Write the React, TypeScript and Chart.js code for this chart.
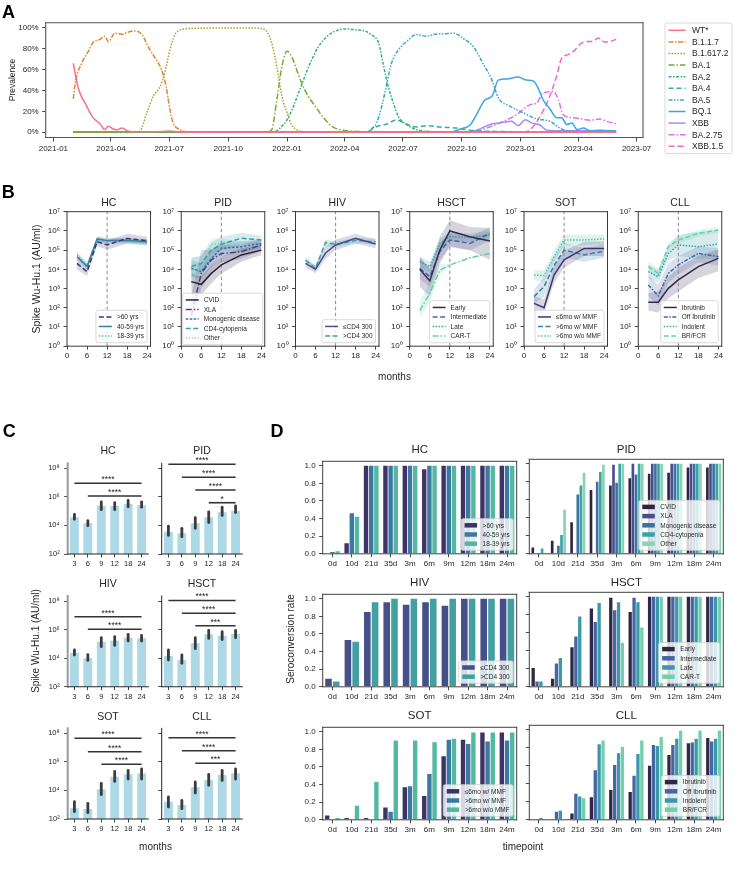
import React, { useEffect, useRef } from 'react';
import { Chart, registerables } from 'chart.js';

Chart.register(...registerables);

const FONT = '"Liberation Sans", Arial, Helvetica, sans-serif';
const INK = '#262626';

// ================= Panel A : variant prevalence =================
const aTickDays = [0, 90, 181, 273, 365, 455, 546, 638, 730, 820, 911];
const aTickLabels = ['2021-01', '2021-04', '2021-07', '2021-10', '2022-01', '2022-04', '2022-07', '2022-10', '2023-01', '2023-04', '2023-07'];
const aYTicks = [0, 20, 40, 60, 80, 100];
const aVariants = ['WT*', 'B.1.1.7', 'B.1.617.2', 'BA.1', 'BA.2', 'BA.4', 'BA.5', 'BQ.1', 'XBB', 'BA.2.75', 'XBB.1.5'];

// days since 2021-01-01, prevalence %
const wtDays = [31, 39, 52, 62, 73, 80, 86, 93, 100, 107, 115, 125, 150, 170, 182, 195, 220, 500, 879];
const wtPct = [66, 42, 25, 14, 8, 2.6, 5.7, 3.2, 2.5, 4, 1.5, 0.6, 0.5, 0.8, 1.2, 0.3, 0, 0, 0];
const b117Days = [31, 35, 44, 55, 62, 73, 80, 86, 96, 107, 117, 125, 138, 148, 159, 169, 176, 182, 187, 198, 208, 230, 879];
const b117Pct = [32, 50, 66, 78, 86, 89, 92, 87, 95, 94, 96, 97, 94, 82, 71, 60, 44, 22, 9, 2.6, 0.5, 0, 0];
const b16172Days = [31, 128, 135, 146, 156, 167, 174, 182, 190, 200, 216, 300, 323, 333, 341, 349, 357, 365, 372, 380, 392, 879];
const b16172Pct = [0, 0, 1, 18.6, 34.5, 44, 57, 79, 93.6, 98.4, 99.5, 100, 99.5, 96.7, 85.6, 63, 34.5, 18.6, 7.4, 2.5, 0.5, 0];
const ba1Days = [31, 330, 341, 349, 357, 365, 372, 380, 388, 398, 409, 422, 437, 453, 469, 500, 879];
const ba1Pct = [0, 0, 2.5, 31, 63, 77.6, 72.8, 60, 47, 34.5, 25, 13.8, 5, 2, 1, 0.5, 0];
const ba2Days = [31, 343, 354, 365, 375, 388, 401, 414, 429, 442, 458, 476, 487, 495, 508, 515, 523, 531, 539, 552, 567, 581, 600, 879];
const ba2Pct = [0, 0, 4, 12, 25, 46, 66, 82, 92.6, 97.4, 99, 98, 97, 94, 85.6, 66, 44, 28, 15, 7.4, 2.6, 1, 0.5, 0];
const ba4Days = [31, 490, 500, 508, 521, 536, 547, 567, 583, 604, 630, 650, 680, 879];
const ba4Pct = [0, 0, 4, 6, 8, 12, 9, 5, 6.4, 5, 4, 2, 1, 0];
const ba5Days = [31, 490, 495, 505, 513, 521, 528, 539, 552, 567, 583, 596, 612, 625, 640, 656, 671, 685, 695, 713, 734, 755, 776, 791, 808, 879];
const ba5Pct = [0, 0, 2.5, 9, 25, 47, 66, 79, 87, 93.6, 92, 94, 94.5, 95, 90, 82, 66, 50, 33, 25, 18.6, 12.8, 10.5, 4, 1, 0];
const bq1Days = [31, 620, 635, 651, 661, 674, 685, 695, 708, 726, 739, 750, 757, 765, 776, 786, 794, 802, 810, 818, 828, 838, 854, 879];
const bq1Pct = [0, 0, 3, 7, 17, 31, 34.5, 50, 51, 53, 50, 49, 42.5, 31, 22, 14, 14, 7.4, 9, 2.6, 4, 1.5, 2, 1];
const xbbDays = [31, 640, 661, 682, 698, 716, 726, 737, 747, 760, 771, 800, 879];
const xbbPct = [0, 0, 2, 7.4, 9, 10.5, 6.4, 12, 9, 7, 2, 1.5, 1.5];
const ba275Days = [31, 640, 660, 677, 703, 724, 734, 745, 755, 765, 781, 789, 796, 812, 823, 838, 854, 864, 879];
const ba275Pct = [0, 0, 1, 4, 10.5, 17, 22, 26.5, 28, 37.7, 39, 31, 17, 14, 13, 11.5, 12.8, 10.5, 8];
const xbb15Days = [31, 729, 745, 760, 773, 786, 794, 804, 815, 822, 833, 843, 851, 861, 870, 879];
const xbb15Pct = [0, 0, 2.6, 15, 31, 53.6, 71, 74.4, 79, 84, 87, 87, 90.4, 86.6, 87, 89];

const aSeries = [
  [wtDays, wtPct], [b117Days, b117Pct], [b16172Days, b16172Pct], [ba1Days, ba1Pct], [ba2Days, ba2Pct],
  [ba4Days, ba4Pct], [ba5Days, ba5Pct], [bq1Days, bq1Pct], [xbbDays, xbbPct], [ba275Days, ba275Pct], [xbb15Days, xbb15Pct],
];
const aColors = ['#f77189', '#dc8932', '#ae9d31', '#77ab31', '#33b07a', '#36ada4', '#38a9c5', '#3ba3ec', '#a48cf4', '#dd6ff0', '#f668c2'];
const aDashes = [[], [5, 1.5, 1.5, 1.5], [1.5, 1.5], [6, 2, 1.5, 2], [3, 1.5, 1.5, 1.5], [5, 3], [4, 1.5, 1.5, 1.5, 1.5, 1.5], [], [], [6, 2, 1.5, 2], [6, 3]];

// ================= Panel B : antibody kinetics (log10 AU/ml) =================
const bMonths = [3, 6, 9, 12, 18, 24];
const bXTicks = [0, 6, 12, 18, 24];
const bYTicks = [1, 10, 100, 1e3, 1e4, 1e5, 1e6, 1e7];

const hcLabels = ['>60 yrs', '40-59 yrs', '18-39 yrs'];
const hcMean = [[4.31, 3.88, 5.44, 5.27, 5.61, 5.49], [4.66, 4.14, 5.58, 5.5, 5.52, 5.44], [4.75, 4.2, 5.5, 5.5, 5.45, 5.38]];
const hcLo = [[4.0, 3.65, 5.2, 5.02, 5.35, 5.28], [4.5, 4.0, 5.42, 5.38, 5.4, 5.33], [4.5, 4.0, 5.3, 5.35, 5.3, 5.22]];
const hcHi = [[4.55, 4.05, 5.68, 5.5, 5.85, 5.7], [4.82, 4.3, 5.72, 5.62, 5.64, 5.55], [4.95, 4.38, 5.68, 5.65, 5.6, 5.52]];

const pidLabels = ['CVID', 'XLA', 'Monogenic disease', 'CD4-cytopenia', 'Other'];
const pidMean = [[3.36, 3.22, 3.79, 4.23, 4.75, 5.0], [1.6, 3.79, 4.49, 4.83, 4.92, 5.27], [4.05, 3.88, 4.57, 5.09, 5.18, 5.35], [4.15, 4.3, 5.0, 5.3, 5.62, 5.53], [3.95, 4.1, 5.3, 5.35, 5.2, 5.3]];
const pidLo = [[2.75, 2.67, 3.27, 3.79, 4.4, 4.75], [0.8, 3.0, 3.9, 4.35, 4.55, 4.95], [3.6, 3.5, 4.15, 4.7, 4.9, 5.1], [3.6, 3.85, 4.5, 4.95, 5.3, 5.25], [3.2, 3.5, 4.8, 5.0, 4.9, 5.0]];
const pidHi = [[3.8, 3.62, 4.23, 4.66, 5.1, 5.3], [2.6, 5.0, 5.05, 5.25, 5.3, 5.55], [4.5, 4.3, 5.0, 5.45, 5.45, 5.55], [4.6, 4.7, 5.4, 5.7, 5.9, 5.75], [4.6, 4.7, 5.6, 5.6, 5.45, 5.55]];

const hivLabels = ['≤CD4 300', '>CD4 300'];
const hivMean = [[4.31, 4.0, 4.85, 5.27, 5.61, 5.32], [4.48, 4.05, 5.4, 5.3, 5.5, 5.44]];
const hivLo = [[4.1, 3.8, 4.55, 5.0, 5.35, 5.1], [4.3, 3.9, 5.2, 5.15, 5.35, 5.3]];
const hivHi = [[4.5, 4.2, 5.2, 5.55, 5.85, 5.55], [4.65, 4.2, 5.55, 5.45, 5.65, 5.6]];

const hsctLabels = ['Early', 'Intermediate', 'Late', 'CAR-T'];
const hsctMean = [[4.0, 3.4, 5.0, 6.0, 5.7, 5.47], [4.05, 3.62, 4.92, 5.53, 5.35, 5.87], [4.4, 4.14, 5.35, 5.7, 5.67, 5.79], [1.85, 2.75, 3.95, 4.23, 4.6, 4.83]];
const hsctLo = [[3.1, 2.6, 4.3, 5.2, 5.0, 4.5], [3.5, 3.1, 4.5, 5.15, 5.0, 5.5], [4.1, 3.85, 5.05, 5.45, 5.45, 5.55], [1.5, 2.3, 3.75, 4.2, 4.57, 4.8]];
const hsctHi = [[4.66, 4.0, 5.7, 6.55, 6.2, 6.15], [4.6, 4.1, 5.35, 5.9, 5.7, 6.2], [4.65, 4.4, 5.6, 5.9, 5.85, 6.0], [2.3, 3.4, 4.3, 4.26, 4.63, 4.86]];

const sotLabels = ['≤6mo w/ MMF', '>6mo w/ MMF', '>6mo w/o MMF'];
const sotMean = [[2.23, 2.0, 3.7, 4.49, 5.09, 5.09], [2.58, 3.1, 4.2, 5.0, 4.75, 4.95], [3.7, 3.67, 4.66, 5.53, 5.53, 5.58]];
const sotLo = [[1.85, 1.7, 3.3, 4.1, 4.7, 4.7], [2.2, 2.6, 3.75, 4.6, 4.4, 4.6], [3.45, 3.35, 4.35, 5.25, 5.25, 5.3]];
const sotHi = [[2.6, 2.45, 4.15, 4.95, 5.45, 5.45], [2.95, 3.6, 4.65, 5.4, 5.1, 5.3], [3.95, 3.95, 5.0, 5.8, 5.8, 5.8]];

const cllLabels = ['Ibrutinib', 'Off Ibrutinib', 'Indolent', 'BR/FCR'];
const cllMean = [[2.29, 2.29, 3.01, 3.45, 4.14, 4.57], [3.19, 2.62, 3.79, 4.23, 4.83, 4.66], [3.88, 3.62, 4.83, 5.27, 5.18, 5.32], [4.14, 3.79, 5.18, 5.53, 5.87, 6.05]];
const cllLo = [[1.85, 1.75, 2.5, 2.85, 3.55, 3.9], [2.6, 2.1, 3.3, 3.75, 4.35, 4.2], [3.55, 3.3, 4.45, 4.7, 4.55, 4.55], [3.9, 3.5, 4.95, 5.35, 5.7, 5.9]];
const cllHi = [[2.75, 2.85, 3.6, 4.1, 4.7, 5.05], [3.7, 3.2, 4.3, 4.7, 5.2, 5.1], [4.25, 3.95, 5.2, 5.8, 5.95, 6.05], [4.4, 4.05, 5.4, 5.7, 6.05, 6.25]];

const PAL3 = ['#3b3470', '#3c7dab', '#55c3a5'];
const PAL2 = ['#474c8c', '#40a0a0'];
const PAL4 = ['#33294f', '#3f68a6', '#3d9fab', '#66d0a8'];
const PAL5 = ['#2d1f3e', '#474486', '#3a72a6', '#38a0a8', '#80d4ae'];

const bPanels = [
  { title: 'HC', labels: hcLabels, mean: hcMean, lo: hcLo, hi: hcHi, colors: PAL3, dashes: [[5, 2.5], [], [1.5, 1.5]], pos: 'lr' },
  { title: 'PID', labels: pidLabels, mean: pidMean, lo: pidLo, hi: pidHi, colors: PAL5, dashes: [[], [6, 2, 1.5, 2], [2.5, 1.5], [5, 2.5], [1.2, 1.8]], pos: 'll' },
  { title: 'HIV', labels: hivLabels, mean: hivMean, lo: hivLo, hi: hivHi, colors: PAL2, dashes: [[], [5, 2.5]], pos: 'lr' },
  { title: 'HSCT', labels: hsctLabels, mean: hsctMean, lo: hsctLo, hi: hsctHi, colors: PAL4, dashes: [[], [5, 2.5], [1.5, 1.5], [6, 2, 1.5, 2]], pos: 'lr' },
  { title: 'SOT', labels: sotLabels, mean: sotMean, lo: sotLo, hi: sotHi, colors: PAL3, dashes: [[], [5, 2.5], [1.5, 1.5]], pos: 'lr' },
  { title: 'CLL', labels: cllLabels, mean: cllMean, lo: cllLo, hi: cllHi, colors: PAL4, dashes: [[], [4, 1.5, 1.5, 1.5], [1.5, 1.5], [5, 2.5]], pos: 'lr' },
];

// ================= Panel C : bar plots (log10 AU/ml) =================
const cMonths = ['3', '6', '9', '12', '18', '24'];
const cYTicks = [1e2, 1e4, 1e6, 1e8];
const cHC = [4.57, 4.15, 5.38, 5.36, 5.5, 5.43];
const cHCLo = [4.43, 3.98, 5.1, 5.1, 5.3, 5.28];
const cHCHi = [4.78, 4.33, 5.65, 5.6, 5.75, 5.65];
const cPID = [3.56, 3.45, 4.15, 4.57, 4.92, 5.03];
const cPIDLo = [3.3, 3.2, 3.8, 4.2, 4.7, 4.9];
const cPIDHi = [3.95, 3.8, 4.55, 4.95, 5.28, 5.37];
const cHIV = [4.38, 3.99, 5.15, 5.22, 5.43, 5.39];
const cHIVLo = [4.22, 3.85, 4.8, 4.9, 5.2, 5.2];
const cHIVHi = [4.57, 4.25, 5.43, 5.5, 5.67, 5.6];
const cHSCT = [4.15, 3.87, 5.04, 5.67, 5.57, 5.69];
const cHSCTLo = [3.87, 3.64, 4.66, 5.38, 5.3, 5.43];
const cHSCTHi = [4.57, 4.22, 5.43, 5.95, 5.85, 5.95];
const cSOT = [2.75, 2.7, 4.08, 4.96, 5.13, 5.2];
const cSOTLo = [2.51, 2.44, 3.7, 4.63, 4.8, 4.8];
const cSOTHi = [3.21, 3.1, 4.5, 5.33, 5.4, 5.5];
const cCLL = [3.21, 2.98, 4.22, 4.73, 5.08, 5.2];
const cCLLLo = [2.84, 2.72, 3.82, 4.36, 4.7, 4.8];
const cCLLHi = [3.54, 3.3, 4.59, 5.13, 5.4, 5.5];
// significance brackets: start bar index (to 24 months), log10 height, label
const cHCSigFrom = [0, 1];
const cHCSigY = [6.95, 6.06];
const cHCSigTxt = ['****', '****'];
const cPIDSigFrom = [0, 1, 2, 3];
const cPIDSigY = [8.28, 7.37, 6.48, 5.59];
const cPIDSigTxt = ['****', '****', '****', '*'];
const cHIVSigFrom = [0, 1];
const cHIVSigY = [6.9, 6.02];
const cHIVSigTxt = ['****', '****'];
const cHSCTSigFrom = [0, 1, 2];
const cHSCTSigY = [8.03, 7.14, 6.27];
const cHSCTSigTxt = ['****', '****', '***'];
const cSOTSigFrom = [0, 1, 2];
const cSOTSigY = [7.65, 6.71, 5.83];
const cSOTSigTxt = ['****', '****', '****'];
const cCLLSigFrom = [0, 1, 2];
const cCLLSigY = [7.69, 6.78, 5.9];
const cCLLSigTxt = ['****', '****', '***'];

const cPanels = [
  { title: 'HC', mean: cHC, lo: cHCLo, hi: cHCHi, sf: cHCSigFrom, sy: cHCSigY, st: cHCSigTxt },
  { title: 'PID', mean: cPID, lo: cPIDLo, hi: cPIDHi, sf: cPIDSigFrom, sy: cPIDSigY, st: cPIDSigTxt },
  { title: 'HIV', mean: cHIV, lo: cHIVLo, hi: cHIVHi, sf: cHIVSigFrom, sy: cHIVSigY, st: cHIVSigTxt },
  { title: 'HSCT', mean: cHSCT, lo: cHSCTLo, hi: cHSCTHi, sf: cHSCTSigFrom, sy: cHSCTSigY, st: cHSCTSigTxt },
  { title: 'SOT', mean: cSOT, lo: cSOTLo, hi: cSOTHi, sf: cSOTSigFrom, sy: cSOTSigY, st: cSOTSigTxt },
  { title: 'CLL', mean: cCLL, lo: cCLLLo, hi: cCLLHi, sf: cCLLSigFrom, sy: cCLLSigY, st: cCLLSigTxt },
];

// ================= Panel D : seroconversion rate =================
const dTimepoints = ['0d', '10d', '21d', '35d', '3m', '6m', '9m', '12m', '18m', '24m'];
const dYTicks = [0, 0.2, 0.4, 0.6, 0.8, 1.0];
const dHC = [
  [0, 0.12, 1, 1, 1, 0.96, 1, 1, 1, 1],
  [0.02, 0.46, 1, 1, 1, 1, 1, 1, 1, 1],
  [0.03, 0.42, 1, 1, 1, 1, 1, 1, 1, 1],
];
const dPID = [
  [0.07, 0.145, 0.35, 0.71, 0.76, 0.84, 0.89, 0.9, 0.96, 0.96],
  [0, 0, 0, 0, 0.99, 1, 1, 1, 1, 1],
  [0, 0.09, 0.66, 0.8, 0.79, 0.88, 1, 1, 1, 1],
  [0.06, 0.21, 0.76, 0.91, 1, 1, 1, 1, 1, 1],
  [0, 0.49, 0.9, 0.99, 1, 1, 1, 1, 1, 1],
];
const dHIV = [
  [0.09, 0.53, 0.85, 0.96, 0.93, 0.96, 0.92, 1, 1, 1],
  [0.06, 0.51, 0.96, 1, 1, 1, 1, 1, 1, 1],
];
const dHSCT = [
  [0.21, 0.09, 0.44, 0.87, 0.99, 0.83, 1, 1, 1, 1],
  [0.06, 0.26, 0.56, 0.72, 0.85, 0.99, 1, 1, 1, 1],
  [0.06, 0.32, 0.78, 0.93, 0.94, 0.94, 1, 1, 1, 1],
  [0, 0, 0, 0, 0.49, 0.66, 1, 1, 1, 1],
];
const dSOT = [
  [0.05, 0.02, 0.02, 0.14, 0.37, 0.27, 0.72, 0.91, 0.99, 0.99],
  [0, 0, 0, 0.09, 0.38, 0.52, 0.91, 0.86, 0.89, 0.9],
  [0.02, 0.16, 0.43, 0.9, 0.9, 0.88, 0.92, 0.99, 0.99, 0.99],
];
const dCLL = [
  [0, 0, 0.07, 0.25, 0.33, 0.31, 0.6, 0.72, 0.85, 0.91],
  [0, 0.09, 0.29, 0.55, 0.61, 0.49, 0.83, 0.83, 0.86, 0.87],
  [0.02, 0.1, 0.26, 0.84, 0.74, 0.73, 0.82, 0.9, 0.9, 0.9],
  [0, 0, 0.24, 0.88, 0.81, 0.88, 0.92, 0.99, 0.99, 0.99],
];
const DPAL3 = ['#3d3465', '#3d78a3', '#52b8a2'];
const DPAL2 = ['#474f89', '#43a0a0'];
const DPAL4 = ['#302746', '#4466a2', '#3b97a9', '#70d0ad'];
const DPAL5 = ['#2e2340', '#4a4d8d', '#3b72a0', '#3aa2a8', '#86d4b0'];
const dPanels = [
  { title: 'HC', labels: hcLabels, vals: dHC, colors: DPAL3 },
  { title: 'PID', labels: pidLabels, vals: dPID, colors: DPAL5 },
  { title: 'HIV', labels: hivLabels, vals: dHIV, colors: DPAL2 },
  { title: 'HSCT', labels: hsctLabels, vals: dHSCT, colors: DPAL4 },
  { title: 'SOT', labels: sotLabels, vals: dSOT, colors: DPAL3 },
  { title: 'CLL', labels: cllLabels, vals: dCLL, colors: DPAL4 },
];

// ================= helpers =================
const SUP: any = { '0': '⁰', '1': '¹', '2': '²', '3': '³', '4': '⁴', '5': '⁵', '6': '⁶', '7': '⁷', '8': '⁸', '9': '⁹', '-': '⁻' };
const pow10Label = (v: number) => '10' + String(Math.round(Math.log10(v))).split('').map((c) => SUP[c]).join('');
const hexA = (hex: string, a: number) => {
  const n = parseInt(hex.slice(1), 16);
  return `rgba(${(n >> 16) & 255},${(n >> 8) & 255},${n & 255},${a})`;
};

function geom(bx: any) {
  const left = Math.floor(bx.x - bx.l);
  const top = Math.floor(bx.y - bx.t);
  const right = Math.ceil(bx.x + bx.w + bx.r);
  const bottom = Math.ceil(bx.y + bx.h + bx.b);
  return {
    left, top, W: right - left, H: bottom - top,
    L: bx.x - left, T: bx.y - top, R: right - (bx.x + bx.w), B: bottom - (bx.y + bx.h),
  };
}

function mkAxis(kind: string, c: any) {
  const a: any = {
    type: c.type,
    position: kind === 'x' ? 'bottom' : 'left',
    border: { display: false },
    grid: { display: true, drawOnChartArea: false, drawTicks: true, tickLength: c.tickLen ?? 3.5, color: '#333333', lineWidth: 0.9, offset: false },
    ticks: { display: c.show !== false, font: { family: FONT, size: c.size }, color: INK, padding: c.pad, autoSkip: false, maxRotation: 0, minRotation: 0 },
    afterFit: (s: any) => { if (kind === 'x') s.height = c.fit; else s.width = c.fit; },
  };
  if (c.min !== undefined) a.min = c.min;
  if (c.max !== undefined) a.max = c.max;
  if (c.tickVals) a.afterBuildTicks = (s: any) => { s.ticks = c.tickVals.map((v: number) => ({ value: v })); };
  if (c.fmt) a.ticks.callback = (v: any) => c.fmt(v);
  if (c.type === 'category') a.offset = true;
  return a;
}

function baseOptions(g: any, scales: any) {
  return {
    animation: false, responsive: false, maintainAspectRatio: false, devicePixelRatio: 1, events: [],
    layout: { padding: { left: 0, top: g.T, right: g.R, bottom: 0 } },
    plugins: { legend: { display: false }, tooltip: { enabled: false }, title: { display: false } },
    scales,
  };
}

function framePlugin(sides: any[]) {
  return {
    id: 'frame',
    afterDatasetsDraw(chart: any) {
      const { left, right, top, bottom } = chart.chartArea;
      const ctx = chart.ctx;
      ctx.save();
      ctx.setLineDash([]);
      ctx.lineCap = 'square';
      for (const s of sides) {
        ctx.strokeStyle = s.color;
        ctx.lineWidth = s.width;
        ctx.beginPath();
        if (s.side === 'left') { ctx.moveTo(left, top); ctx.lineTo(left, bottom); }
        if (s.side === 'right') { ctx.moveTo(right, top); ctx.lineTo(right, bottom); }
        if (s.side === 'top') { ctx.moveTo(left, top); ctx.lineTo(right, top); }
        if (s.side === 'bottom') { ctx.moveTo(left, bottom); ctx.lineTo(right, bottom); }
        ctx.stroke();
      }
      ctx.restore();
    },
  };
}
const boxSides = (color: string, width: number) => ['left', 'right', 'top', 'bottom'].map((side) => ({ side, color, width }));

function legendPlugin(items: any[], o: any) {
  return {
    id: 'boxLegend',
    afterDraw(chart: any) {
      const ctx = chart.ctx;
      const ca = chart.chartArea;
      ctx.save();
      ctx.font = `${o.size}px ${FONT}`;
      let tw = 0;
      for (const it of items) tw = Math.max(tw, ctx.measureText(it.label).width);
      const w = o.padX * 2 + o.sw + o.gap + tw;
      const h = o.padY * 2 + items.length * o.rowH;
      let x: number, y: number;
      if (o.pos === 'lr') { x = ca.right - o.margin - w; y = ca.bottom - o.margin - h; }
      else if (o.pos === 'll') { x = ca.left + o.margin; y = ca.bottom - o.margin - h; }
      else { x = ca.right + o.dx; y = ca.top + o.dy; }
      const r = 2;
      ctx.beginPath();
      ctx.moveTo(x + r, y);
      ctx.lineTo(x + w - r, y); ctx.quadraticCurveTo(x + w, y, x + w, y + r);
      ctx.lineTo(x + w, y + h - r); ctx.quadraticCurveTo(x + w, y + h, x + w - r, y + h);
      ctx.lineTo(x + r, y + h); ctx.quadraticCurveTo(x, y + h, x, y + h - r);
      ctx.lineTo(x, y + r); ctx.quadraticCurveTo(x, y, x + r, y);
      ctx.closePath();
      ctx.fillStyle = 'rgba(255,255,255,0.8)';
      ctx.fill();
      ctx.strokeStyle = '#d0d0d0';
      ctx.lineWidth = 0.8;
      ctx.stroke();
      items.forEach((it, i) => {
        const cy = y + o.padY + o.rowH * (i + 0.5);
        const sx = x + o.padX;
        if (o.kind === 'rect') {
          ctx.fillStyle = it.color;
          ctx.fillRect(sx, cy - o.rh / 2, o.sw, o.rh);
        } else {
          ctx.strokeStyle = it.color;
          ctx.lineWidth = o.lw;
          ctx.setLineDash(it.dash || []);
          ctx.beginPath(); ctx.moveTo(sx, cy); ctx.lineTo(sx + o.sw, cy); ctx.stroke();
          ctx.setLineDash([]);
        }
        ctx.fillStyle = INK;
        ctx.textAlign = 'left';
        ctx.textBaseline = 'middle';
        ctx.fillText(it.label, sx + o.sw + o.gap, cy + 0.5);
      });
      ctx.restore();
    },
  };
}

function cExtrasPlugin(p: any) {
  return {
    id: 'cExtras',
    afterDatasetsDraw(chart: any) {
      const ctx = chart.ctx;
      const ys = chart.scales.y;
      const xs = chart.scales.x;
      const meta = chart.getDatasetMeta(0);
      ctx.save();
      ctx.strokeStyle = '#3c3c3c';
      ctx.lineWidth = 2.8;
      ctx.lineCap = 'round';
      meta.data.forEach((bar: any, i: number) => {
        ctx.beginPath();
        ctx.moveTo(bar.x, ys.getPixelForValue(10 ** p.lo[i]));
        ctx.lineTo(bar.x, ys.getPixelForValue(10 ** p.hi[i]));
        ctx.stroke();
      });
      ctx.lineCap = 'butt';
      ctx.lineWidth = 1.6;
      ctx.strokeStyle = '#333333';
      ctx.font = `8.5px ${FONT}`;
      ctx.fillStyle = INK;
      ctx.textAlign = 'center';
      ctx.textBaseline = 'alphabetic';
      p.sf.forEach((from: number, k: number) => {
        const x1 = xs.getPixelForValue(from);
        const x2 = xs.getPixelForValue(cMonths.length - 1);
        const y = ys.getPixelForValue(10 ** p.sy[k]);
        ctx.beginPath(); ctx.moveTo(x1, y); ctx.lineTo(x2, y); ctx.stroke();
        ctx.fillText(p.st[k], (x1 + x2) / 2, y - 1.2);
      });
      ctx.restore();
    },
  };
}

// ================= chart builders =================
function makeA(g: any) {
  const datasets = aSeries.map(([days, pct], i) => ({
    label: aVariants[i],
    data: days.map((d, j) => ({ x: d, y: pct[j] })),
    borderColor: aColors[i], borderWidth: 1.5, borderDash: aDashes[i],
    pointRadius: 0, fill: false, cubicInterpolationMode: 'monotone',
  }));
  const scales = {
    x: mkAxis('x', { type: 'linear', min: -12, max: 921, tickVals: aTickDays, fmt: (v: number) => aTickLabels[aTickDays.indexOf(v)] ?? '', size: 8, pad: 2, fit: g.B, tickLen: 4 }),
    y: mkAxis('y', { type: 'linear', min: -5, max: 105, tickVals: aYTicks, fmt: (v: number) => `${v}%`, size: 8, pad: 3.5, fit: g.L, tickLen: 3.5 }),
  };
  const items = aVariants.map((label, i) => ({ label, color: aColors[i], dash: aDashes[i] }));
  return {
    type: 'line', data: { datasets }, options: baseOptions(g, scales),
    plugins: [framePlugin(boxSides('#555555', 1.1)), legendPlugin(items, { pos: 'out', dx: 22, dy: 0.3, size: 8.5, rowH: 11.6, padX: 3.5, padY: 1.5, sw: 17, gap: 6.5, kind: 'line', lw: 1.5 })],
  };
}

function makeB(p: any, g: any) {
  const datasets: any[] = [];
  p.labels.forEach((lab: string, k: number) => datasets.push({
    label: lab, data: bMonths.map((m, j) => ({ x: m, y: 10 ** p.mean[k][j] })),
    borderColor: p.colors[k], borderWidth: 1.5, borderDash: p.dashes[k], pointRadius: 0, fill: false, order: 0,
  }));
  datasets.push({ data: [{ x: 12, y: 1 }, { x: 12, y: 1e7 }], borderColor: '#8a8a8a', borderWidth: 1, borderDash: [3.5, 2.5], pointRadius: 0, fill: false, order: 1 });
  p.labels.forEach((_lab: string, k: number) => {
    datasets.push({ data: bMonths.map((m, j) => ({ x: m, y: 10 ** p.lo[k][j] })), borderWidth: 0, borderColor: 'rgba(0,0,0,0)', pointRadius: 0, fill: false, order: 2 });
    datasets.push({ data: bMonths.map((m, j) => ({ x: m, y: 10 ** p.hi[k][j] })), borderWidth: 0, borderColor: 'rgba(0,0,0,0)', pointRadius: 0, fill: '-1', backgroundColor: hexA(p.colors[k], 0.2), order: 2 });
  });
  const scales = {
    x: mkAxis('x', { type: 'linear', min: 0, max: 25, tickVals: bXTicks, fmt: (v: number) => String(v), size: 8, pad: 1.5, fit: g.B }),
    y: mkAxis('y', { type: 'logarithmic', min: 1, max: 1e7, tickVals: bYTicks, fmt: pow10Label, size: 8, pad: 3.5, fit: g.L }),
  };
  const items = p.labels.map((label: string, k: number) => ({ label, color: p.colors[k], dash: p.dashes[k] }));
  return {
    type: 'line', data: { datasets }, options: baseOptions(g, scales),
    plugins: [framePlugin(boxSides('#3a3a3a', 1)), legendPlugin(items, { pos: p.pos, margin: p.pos === 'll' ? 1.5 : 3.5, size: 6.5, rowH: 9.5, padX: 3, padY: 2, sw: 13, gap: 5, kind: 'line', lw: 1.5 })],
  };
}

function makeC(p: any, col: number, g: any) {
  const scales = {
    x: mkAxis('x', { type: 'category', size: 7.5, pad: 2, fit: g.B }),
    y: mkAxis('y', { type: 'logarithmic', min: 100, max: 2.24e8, tickVals: cYTicks, fmt: pow10Label, size: 7.5, pad: 4.5, fit: g.L, show: col === 0 }),
  };
  return {
    type: 'bar',
    data: { labels: cMonths, datasets: [{ data: p.mean.map((v: number) => 10 ** v), backgroundColor: '#add8e6', borderWidth: 0, categoryPercentage: 1, barPercentage: 0.66 }] },
    options: baseOptions(g, scales),
    plugins: [
      framePlugin([{ side: 'left', color: col === 0 ? '#9a9a9a' : '#262626', width: col === 0 ? 2 : 1 }, { side: 'bottom', color: '#262626', width: 1.1 }]),
      cExtrasPlugin(p),
    ],
  };
}

function makeD(p: any, col: number, g: any) {
  const scales = {
    x: mkAxis('x', { type: 'category', size: 8, pad: 2, fit: g.B }),
    y: mkAxis('y', { type: 'linear', min: 0, max: 1.05, tickVals: dYTicks, fmt: (v: number) => v.toFixed(1), size: 8, pad: 3.5, fit: g.L, show: col === 0 }),
  };
  const items = p.labels.map((label: string, k: number) => ({ label, color: p.colors[k] }));
  return {
    type: 'bar',
    data: {
      labels: dTimepoints,
      datasets: p.vals.map((v: number[], k: number) => ({ label: p.labels[k], data: v, backgroundColor: p.colors[k], borderWidth: 0, categoryPercentage: 0.8, barPercentage: 0.85 })),
    },
    options: baseOptions(g, scales),
    plugins: [framePlugin(boxSides('#404040', 1)), legendPlugin(items, { pos: 'lr', margin: 3.5, size: 6.5, rowH: 9.2, padX: 3.5, padY: 2, sw: 12.5, gap: 5.5, kind: 'rect', rh: 4.5 })],
  };
}

// ================= components =================
function ChartBox({ bx, make }: any) {
  const ref = useRef<HTMLCanvasElement>(null);
  const g = geom(bx);
  useEffect(() => {
    const chart = new Chart(ref.current as any, make(g) as any);
    return () => chart.destroy();
  }, []);
  return (
    <canvas ref={ref} width={g.W} height={g.H}
      style={{ position: 'absolute', left: g.left, top: g.top, width: g.W, height: g.H }} />
  );
}

function Label({ x, y, text, size = 10, bold = false, rotate = 0 }: any) {
  return (
    <div style={{
      position: 'absolute', left: x, top: y, transform: `translate(-50%,-50%) rotate(${rotate}deg)`,
      fontFamily: FONT, fontSize: size, fontWeight: bold ? 700 : 400, lineHeight: 1, whiteSpace: 'nowrap', color: bold ? '#000' : INK,
    }}>{text}</div>
  );
}

const A_BOX = { x: 45.7, y: 22.7, w: 597.3, h: 114.8, l: 45, t: 10, r: 95, b: 22 };
const B_LEFT = 67;
const B_STEP = 114.25;
const B_W = 83.5;
const C_COLS = [67.7, 161.7];
const C_W = 80.6;
const C_BOTTOMS = [554, 686.7, 819];
const C_H = 90.7;
const D_COLS = [322.7, 529.3];
const D_W = 194;
const D_TOPS = [459.3, 592.3, 725.3];
const D_H = 94.5;
const ROW_TITLE_Y = [450, 583, 715.5];

export default function App() {
  return (
    <div style={{ position: 'absolute', left: 0, top: 0, width: 738, height: 876, background: '#ffffff', overflow: 'hidden' }}>
      <ChartBox bx={A_BOX} make={makeA} />
      {bPanels.map((p, i) => (
        <ChartBox key={'b' + i} bx={{ x: B_LEFT + i * B_STEP, y: 211.7, w: B_W, h: 134.5, l: 26, t: 8, r: 6, b: 14 }} make={(g: any) => makeB(p, g)} />
      ))}
      {cPanels.map((p, i) => {
        const col = i % 2, row = Math.floor(i / 2);
        return <ChartBox key={'c' + i} bx={{ x: C_COLS[col], y: C_BOTTOMS[row] - C_H, w: C_W, h: C_H, l: 28, t: 14, r: 6, b: 16 }} make={(g: any) => makeC(p, col, g)} />;
      })}
      {dPanels.map((p, i) => {
        const col = i % 2, row = Math.floor(i / 2);
        return <ChartBox key={'d' + i} bx={{ x: D_COLS[col], y: D_TOPS[row], w: D_W, h: D_H, l: 22, t: 6, r: 5, b: 16 }} make={(g: any) => makeD(p, col, g)} />;
      })}

      <Label x={8.5} y={11.7} text="A" size={18} bold />
      <Label x={8.3} y={191.7} text="B" size={18} bold />
      <Label x={9.2} y={430.5} text="C" size={18} bold />
      <Label x={277} y={430.5} text="D" size={18} bold />

      <Label x={11.7} y={80} text="Prevalence" size={8.5} rotate={-90} />

      {bPanels.map((p, i) => (
        <Label key={'bt' + i} x={B_LEFT + i * B_STEP + B_W / 2} y={202} text={p.title} size={10.5} />
      ))}
      <Label x={36} y={279} text="Spike Wu-Hu.1 (AU/ml)" size={10.5} rotate={-90} />
      <Label x={394.5} y={377.3} text="months" size={10} />

      {cPanels.map((p, i) => (
        <Label key={'ct' + i} x={C_COLS[i % 2] + C_W / 2} y={ROW_TITLE_Y[Math.floor(i / 2)]} text={p.title} size={10.5} />
      ))}
      <Label x={36} y={641} text="Spike Wu-Hu.1 (AU/ml)" size={10} rotate={-90} />
      <Label x={155.5} y={846.7} text="months" size={10} />

      {dPanels.map((p, i) => (
        <Label key={'dt' + i} x={D_COLS[i % 2] + D_W / 2} y={ROW_TITLE_Y[Math.floor(i / 2)]} text={p.title} size={11.5} />
      ))}
      <Label x={291} y={639} text="Seroconversion rate" size={10} rotate={-90} />
      <Label x={523} y={846.7} text="timepoint" size={10} />
    </div>
  );
}
